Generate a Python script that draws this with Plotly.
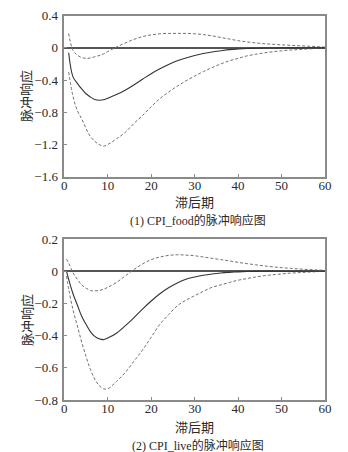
import plotly.graph_objects as go

# ---------- data ----------
lags_food = [1, 2, 3, 4, 5, 6, 7, 8, 9, 10, 12, 14, 16, 18, 20, 22, 24, 26, 28, 30,
             32, 34, 36, 38, 40, 42, 44, 46, 48, 50, 52, 54, 56, 58, 60]
food_irf = [-0.06, -0.36, -0.44, -0.51, -0.57, -0.61, -0.64, -0.65, -0.645, -0.625,
            -0.58, -0.525, -0.46, -0.39, -0.32, -0.26, -0.205, -0.16, -0.125, -0.095,
            -0.07, -0.05, -0.035, -0.022, -0.014, -0.008, -0.004, -0.002, -0.001, 0.0,
            0.0, 0.0, 0.0, 0.0, 0.0]
food_upper = [0.18, -0.03, -0.09, -0.12, -0.13, -0.125, -0.11, -0.095, -0.075, -0.045,
              0.01, 0.06, 0.105, 0.14, 0.162, 0.175, 0.18, 0.18, 0.18, 0.175,
              0.165, 0.15, 0.13, 0.11, 0.09, 0.075, 0.062, 0.052, 0.045, 0.038,
              0.032, 0.027, 0.022, 0.016, 0.01]
food_lower = [-0.3, -0.6, -0.78, -0.88, -1.0, -1.1, -1.16, -1.2, -1.22, -1.2,
              -1.13, -1.05, -0.94, -0.84, -0.73, -0.63, -0.55, -0.475, -0.41, -0.35,
              -0.295, -0.245, -0.2, -0.16, -0.13, -0.1, -0.08, -0.062, -0.048, -0.036,
              -0.027, -0.02, -0.013, -0.007, 0.0]

lags_live = [0.5, 1, 2, 3, 4, 5, 6, 7, 8, 9, 10, 12, 14, 16, 18, 20, 22, 24, 26, 28, 30,
             32, 34, 36, 38, 40, 42, 44, 46, 48, 50, 52, 54, 56, 58, 60]
live_irf = [0.0, -0.05, -0.14, -0.21, -0.28, -0.33, -0.375, -0.405, -0.42, -0.425, -0.415,
            -0.385, -0.34, -0.29, -0.235, -0.185, -0.14, -0.103, -0.073, -0.05, -0.036,
            -0.025, -0.017, -0.011, -0.007, -0.004, -0.002, -0.001, 0.0, 0.0, 0.0,
            0.0, 0.0, 0.0, 0.0, 0.0]
live_upper = [0.075, 0.05, -0.01, -0.05, -0.085, -0.105, -0.12, -0.122, -0.12, -0.112, -0.1,
              -0.07, -0.03, 0.01, 0.045, 0.072, 0.088, 0.098, 0.102, 0.1, 0.096,
              0.088, 0.08, 0.072, 0.064, 0.055, 0.047, 0.04, 0.033, 0.027, 0.022,
              0.018, 0.014, 0.011, 0.008, 0.005]
live_lower = [-0.03, -0.11, -0.24, -0.34, -0.44, -0.53, -0.61, -0.67, -0.71, -0.73, -0.73,
              -0.685, -0.63, -0.56, -0.49, -0.41, -0.33, -0.27, -0.215, -0.18, -0.152,
              -0.125, -0.1, -0.085, -0.07, -0.056, -0.046, -0.036, -0.028, -0.022, -0.017,
              -0.012, -0.009, -0.006, -0.003, 0.0]

x_ticks = [0, 10, 20, 30, 40, 50, 60]
y_ticks_food = [0.4, 0, -0.4, -0.8, -1.2, -1.6]
y_ticks_live = [0.2, 0, -0.2, -0.4, -0.6, -0.8]
y_title = "脉冲响应"
x_title = "滞后期"
captions = ["(1) CPI_food的脉冲响应图", "(2) CPI_live的脉冲响应图"]

# ---------- figure ----------
OFF = 8                      # page body margin
W, H = 348 - OFF, 452 - OFF  # drawable figure size
FONT = "Liberation Serif, Noto Sans CJK SC, serif"
TXT = "#2a2a2a"

fig = go.Figure()

def add_panel(xs, mid, up, lo, xa, ya):
    for band in (up, lo):
        fig.add_trace(go.Scatter(x=xs, y=band, mode="lines", xaxis=xa, yaxis=ya,
                                 line=dict(color="#707070", width=1, dash="3px,2px"),
                                 line_shape="spline", showlegend=False))
    fig.add_trace(go.Scatter(x=xs, y=mid, mode="lines", xaxis=xa, yaxis=ya,
                             line=dict(color="#333333", width=1.1),
                             line_shape="spline", showlegend=False))

add_panel(lags_food, food_irf, food_upper, food_lower, "x", "y")
add_panel(lags_live, live_irf, live_upper, live_lower, "x2", "y2")

def px_x(v):
    return (v - OFF) / W

def px_y(v):
    return 1 - (v - OFF) / H

xdom = [px_x(64.3), px_x(325)]
y1dom = [px_y(176.7), px_y(15.7)]
y2dom = [px_y(400), px_y(239)]

axis_common = dict(showline=True, mirror=True, linecolor="#8a8a8a", linewidth=1.5,
                   showgrid=False, ticks="inside", ticklen=3, tickcolor="#8a8a8a",
                   tickfont=dict(family=FONT, size=13, color=TXT),
                   automargin=False)
zl = dict(zeroline=True, zerolinecolor="#555555", zerolinewidth=2)

fig.update_layout(
    template="none",
    width=W, height=H,
    margin=dict(l=0, r=0, t=0, b=0, pad=0),
    paper_bgcolor="white", plot_bgcolor="white",
    showlegend=False,
    xaxis=dict(domain=xdom, range=[0, 60], tickvals=x_ticks, anchor="y", zeroline=False,
               ticklabelstandoff=-4, **axis_common),
    yaxis=dict(domain=y1dom, range=[-1.6, 0.4], tickvals=y_ticks_food, anchor="x",
               ticklabelstandoff=2, **zl, **axis_common),
    xaxis2=dict(domain=xdom, range=[0, 60], tickvals=x_ticks, anchor="y2", zeroline=False,
                ticklabelstandoff=-4, **axis_common),
    yaxis2=dict(domain=y2dom, range=[-0.8, 0.2], tickvals=y_ticks_live, anchor="x2",
                ticklabelstandoff=2, **zl, **axis_common),
)

def ann(text, x, y, size=13, angle=0):
    fig.add_annotation(text=text, x=px_x(x), y=px_y(y), xref="paper", yref="paper",
                       showarrow=False, textangle=angle, xanchor="center", yanchor="middle",
                       font=dict(family=FONT, size=size, color=TXT))

# panel 1 texts
ann(y_title, 27, 96, size=13, angle=-90)
ann(x_title, 194.7, 202, size=13)
ann(captions[0], 198, 220, size=12)
# panel 2 texts
ann(y_title, 27, 320, size=13, angle=-90)
ann(x_title, 194.7, 427, size=13)
ann(captions[1], 198, 445, size=12)

fig.write_html("out.html")
